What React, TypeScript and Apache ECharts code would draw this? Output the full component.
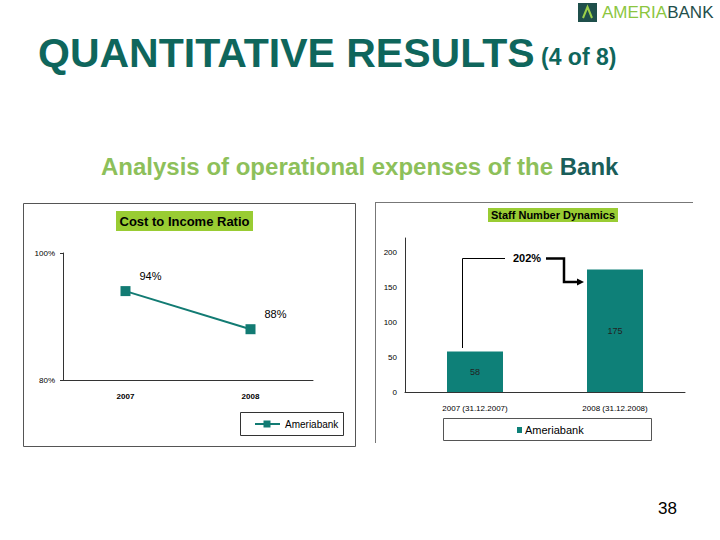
import React, { useEffect, useRef } from "react";
import * as echarts from "echarts";

const ratioYears = ["2007", "2008"];
const ratioValues = [94, 88];
const ratioTicks = { min: 80, max: 100, interval: 20 };

const staffCategories = ["2007 (31.12.2007)", "2008 (31.12.2008)"];
const staffValues = [58, 175];
const growthLabel = "202%";

const seriesName = "Ameriabank";

const TEAL_LINE = "#127b73";
const TEAL_BAR = "#0e8078";
const GREEN_BOX = "#99cc33";
const TITLE_TEAL = "#0f665c";
const FONT = "Liberation Sans, Arial, sans-serif";

export default function App() {
  const ref = useRef<HTMLDivElement>(null);

  useEffect(() => {
    if (!ref.current) return;
    const chart = echarts.init(ref.current, null, { renderer: "svg" });

    const option: any = {
      animation: false,
      backgroundColor: "#ffffff",
      textStyle: { fontFamily: FONT },
      grid: [
        { left: 63, right: 407, top: 253, bottom: 160 },
        { left: 405, right: 35, top: 238, bottom: 148 },
      ],
      xAxis: [
        {
          gridIndex: 0,
          type: "category",
          data: ratioYears,
          boundaryGap: true,
          axisLine: { lineStyle: { color: "#333", width: 1 } },
          axisTick: { length: 3, lineStyle: { color: "#333" } },
          axisLabel: { color: "#000", fontSize: 8, margin: 12, fontFamily: FONT, fontWeight: "bold" },
        },
        {
          gridIndex: 1,
          type: "category",
          data: staffCategories,
          boundaryGap: true,
          axisLine: { lineStyle: { color: "#333", width: 1 } },
          axisTick: { length: 3, lineStyle: { color: "#333" } },
          axisLabel: { color: "#000", fontSize: 8, margin: 12, fontFamily: FONT },
        },
      ],
      yAxis: [
        {
          gridIndex: 0,
          type: "value",
          min: ratioTicks.min,
          max: ratioTicks.max,
          interval: ratioTicks.interval,
          axisLine: { show: true, lineStyle: { color: "#333", width: 1 } },
          axisTick: { show: true, length: 3, lineStyle: { color: "#333" } },
          splitLine: { show: false },
          axisLabel: {
            color: "#000",
            fontSize: 8,
            margin: 8,
            fontFamily: FONT,
            formatter: "{value}%",
          },
        },
        {
          gridIndex: 1,
          type: "value",
          min: 0,
          max: 220,
          interval: 50,
          axisLine: { show: true, lineStyle: { color: "#333", width: 1 } },
          axisTick: { show: false },
          splitLine: { show: false },
          axisLabel: {
            color: "#000",
            fontSize: 8,
            margin: 8,
            fontFamily: FONT,
            formatter: (v: number) => (v % 50 === 0 ? String(v) : ""),
          },
        },
      ],
      series: [
        {
          type: "line",
          name: seriesName,
          xAxisIndex: 0,
          yAxisIndex: 0,
          data: ratioValues,
          symbol: "rect",
          symbolSize: 10,
          lineStyle: { color: TEAL_LINE, width: 2 },
          itemStyle: { color: TEAL_LINE },
          label: {
            show: true,
            position: "right",
            offset: [4, -15],
            formatter: "{c}%",
            fontSize: 11,
            color: "#000",
            fontFamily: FONT,
          },
        },
        {
          type: "bar",
          name: seriesName,
          xAxisIndex: 1,
          yAxisIndex: 1,
          data: staffValues,
          barWidth: "40%",
          itemStyle: { color: TEAL_BAR },
          label: {
            show: true,
            position: "inside",
            fontSize: 9,
            color: "#222",
            fontFamily: FONT,
          },
        },
      ],
      graphic: [
        // Header
        {
          type: "text",
          left: 38,
          top: 32,
          style: {
            text: "QUANTITATIVE RESULTS",
            font: `bold 41px ${FONT}`,
            fill: TITLE_TEAL,
          },
        },
        {
          type: "text",
          left: 541,
          top: 45,
          style: { text: "(4 of 8)", font: `bold 23px ${FONT}`, fill: TITLE_TEAL },
        },
        // Logo
        { type: "rect", shape: { x: 578, y: 3, width: 19, height: 19 }, style: { fill: "#1f4f4b" } },
        {
          type: "polyline",
          shape: { points: [[583, 18], [587.5, 7], [592, 18]] },
          style: { stroke: "#9bd04a", lineWidth: 2, fill: null },
        },
        {
          type: "text",
          left: 602,
          top: 4,
          style: {
            text: "{a|AMERIA}{b|BANK}",
            rich: {
              a: { font: `17px ${FONT}`, fill: "#8cc63f" },
              b: { font: `17px ${FONT}`, fill: "#1f4f4b" },
            },
          },
        },
        // Subtitle
        {
          type: "text",
          left: 101,
          top: 154,
          style: {
            text: "{a|Analysis of operational expenses of the }{b|Bank}",
            rich: {
              a: { font: `bold 24px ${FONT}`, fill: "#8dc05a" },
              b: { font: `bold 24px ${FONT}`, fill: "#1a5e5a" },
            },
          },
        },
        // Left panel frame
        {
          type: "rect",
          shape: { x: 23.5, y: 203.5, width: 332, height: 243 },
          style: { fill: null, stroke: "#555", lineWidth: 1 },
        },
        { type: "rect", shape: { x: 116, y: 211, width: 137, height: 20 }, style: { fill: GREEN_BOX } },
        {
          type: "text",
          x: 184.5,
          y: 221,
          style: {
            text: "Cost to Income Ratio",
            font: `bold 13px ${FONT}`,
            fill: "#000",
            align: "center",
            verticalAlign: "middle",
          },
        },
        // Left legend
        {
          type: "rect",
          shape: { x: 240.5, y: 412.5, width: 103, height: 23 },
          style: { fill: "#fff", stroke: "#333", lineWidth: 1 },
        },
        { type: "line", shape: { x1: 255, y1: 424, x2: 280, y2: 424 }, style: { stroke: TEAL_LINE, lineWidth: 2 } },
        { type: "rect", shape: { x: 263.5, y: 420.5, width: 7, height: 7 }, style: { fill: TEAL_LINE } },
        {
          type: "text",
          x: 285,
          y: 424,
          style: { text: seriesName, font: `10px ${FONT}`, fill: "#000", verticalAlign: "middle" },
        },
        // Right panel frame
        { type: "line", shape: { x1: 375, y1: 202.5, x2: 693, y2: 202.5 }, style: { stroke: "#777", lineWidth: 1 } },
        { type: "line", shape: { x1: 375.5, y1: 202, x2: 375.5, y2: 443 }, style: { stroke: "#777", lineWidth: 1 } },
        { type: "rect", shape: { x: 488, y: 208, width: 130, height: 14 }, style: { fill: GREEN_BOX } },
        {
          type: "text",
          x: 553,
          y: 215,
          style: {
            text: "Staff Number Dynamics",
            font: `bold 11px ${FONT}`,
            fill: "#000",
            align: "center",
            verticalAlign: "middle",
          },
        },
        // Growth annotation
        {
          type: "polyline",
          shape: { points: [[462.5, 348], [462.5, 258.5], [505, 258.5]] },
          style: { stroke: "#000", lineWidth: 1, fill: null },
        },
        {
          type: "text",
          x: 527,
          y: 258,
          style: {
            text: growthLabel,
            font: `bold 11px ${FONT}`,
            fill: "#000",
            align: "center",
            verticalAlign: "middle",
          },
        },
        {
          type: "polyline",
          shape: { points: [[546, 258.5], [564, 258.5], [564, 282], [578, 282]] },
          style: { stroke: "#000", lineWidth: 2.5, fill: null },
        },
        { type: "polygon", shape: { points: [[577, 278.5], [584, 282], [577, 285.5]] }, style: { fill: "#000" } },
        // Right legend
        {
          type: "rect",
          shape: { x: 443.5, y: 418.5, width: 208, height: 22 },
          style: { fill: "#fff", stroke: "#555", lineWidth: 1 },
        },
        { type: "rect", shape: { x: 517, y: 427, width: 5, height: 6 }, style: { fill: TEAL_BAR } },
        {
          type: "text",
          x: 525,
          y: 430,
          style: { text: seriesName, font: `11px ${FONT}`, fill: "#000", verticalAlign: "middle" },
        },
        // Page number
        {
          type: "text",
          x: 667.5,
          y: 508,
          style: {
            text: "38",
            font: `17px ${FONT}`,
            fill: "#000",
            align: "center",
            verticalAlign: "middle",
          },
        },
      ],
    };

    chart.setOption(option);
    return () => chart.dispose();
  }, []);

  return (
    <div
      ref={ref}
      style={{ position: "fixed", left: 0, top: 0, width: 720, height: 540, background: "#fff" }}
    />
  );
}
